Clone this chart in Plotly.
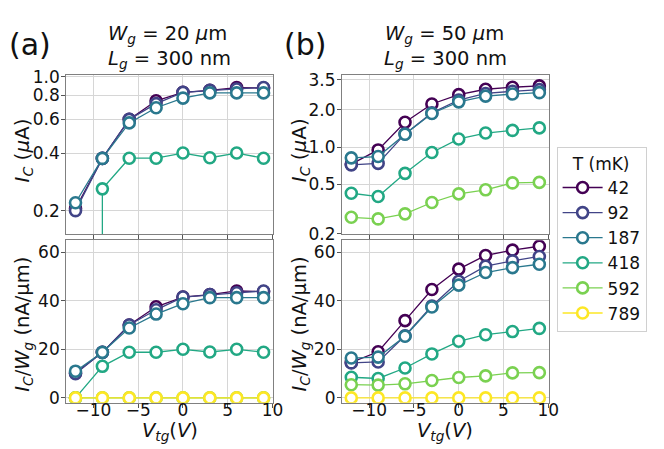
import math
import plotly.graph_objects as go

# ---------------- data ----------------
V_tg = [-12, -9, -6, -3, 0, 3, 6, 9]
temps_mK = [42, 92, 187, 418, 592, 789]
colors = ["#440154", "#414487", "#2a788e", "#22a884", "#7ad151", "#fde725"]

W_a = 20  # um
W_b = 50  # um

# panel (a): I_C in uA
Ic_a_42 = [0.205, 0.375, 0.60, 0.75, 0.83, 0.85, 0.88, 0.875]
Ic_a_92 = [0.20, 0.375, 0.60, 0.725, 0.83, 0.85, 0.865, 0.88]
Ic_a_187 = [0.22, 0.375, 0.575, 0.69, 0.775, 0.825, 0.825, 0.825]
Ic_a_418 = [0.0, 0.26, 0.376, 0.376, 0.40, 0.378, 0.40, 0.376]
Ic_a_592 = [0.0, 0.0, 0.0, 0.0, 0.0, 0.0, 0.0, 0.0]
Ic_a_789 = [0.0, 0.0, 0.0, 0.0, 0.0, 0.0, 0.0, 0.0]

# panel (b): I_C in uA
Ic_b_42 = [0.73, 0.95, 1.59, 2.23, 2.65, 2.93, 3.04, 3.12]
Ic_b_92 = [0.72, 0.74, 1.28, 1.89, 2.40, 2.71, 2.82, 2.91]
Ic_b_187 = [0.82, 0.84, 1.27, 1.87, 2.32, 2.58, 2.68, 2.75]
Ic_b_418 = [0.425, 0.40, 0.615, 0.905, 1.165, 1.30, 1.365, 1.43]
Ic_b_592 = [0.272, 0.264, 0.29, 0.358, 0.42, 0.453, 0.515, 0.52]
Ic_b_789 = [0.0, 0.0, 0.0, 0.0, 0.0, 0.0, 0.0, 0.0]

series_a = [Ic_a_42, Ic_a_92, Ic_a_187, Ic_a_418, Ic_a_592, Ic_a_789]
series_b = [Ic_b_42, Ic_b_92, Ic_b_187, Ic_b_418, Ic_b_592, Ic_b_789]

xticks = [-10, -5, 0, 5, 10]
ytick_a_top = [0.2, 0.4, 0.6, 0.8, 1.0]
ytick_b_top = [0.2, 0.5, 1.0, 2.0, 3.5]
ytick_bottom = [0, 20, 40, 60]

FONT = "DejaVu Sans"
W, H = 664, 449


def log_safe(x, y):
    """Mimic matplotlib: non-positive values on a log axis drop to -inf (vertical line)."""
    ox, oy = [], []
    for i, v in enumerate(y):
        if v > 0:
            ox.append(x[i]); oy.append(v)
        else:
            nb = None
            if i + 1 < len(y) and y[i + 1] > 0:
                nb = i + 1
            elif i - 1 >= 0 and y[i - 1] > 0:
                nb = i - 1
            if nb is None:
                ox.append(None); oy.append(None)
            else:
                ox.append(x[nb]); oy.append(1e-6)
    return ox, oy


fig = go.Figure()

panels = [
    (series_a, W_a, "x", "y", "x3", "y3"),
    (series_b, W_b, "x2", "y2", "x4", "y4"),
]

for p_i, (series, Wg, xt, yt, xb, yb) in enumerate(panels):
    for T, c, Ic in zip(temps_mK, colors, series):
        marker = dict(symbol="circle", size=11, color="white",
                      line=dict(color=c, width=2.6))
        lx, ly = log_safe(V_tg, Ic)
        if any(v is not None for v in ly):
            fig.add_trace(go.Scatter(
                x=lx, y=ly, mode="lines+markers", xaxis=xt, yaxis=yt,
                line=dict(color=c, width=1.3), marker=marker,
                legendgroup=str(T), showlegend=False, name=str(T),
                connectgaps=False))
        per_w = [v / Wg * 1000 for v in Ic]  # nA/um
        fig.add_trace(go.Scatter(
            x=V_tg, y=per_w, mode="lines+markers", xaxis=xb, yaxis=yb,
            line=dict(color=c, width=1.3), marker=marker,
            legendgroup=str(T), showlegend=(p_i == 0), name=str(T)))


def xd(a, b):
    return [a / W, b / W]


def yd(top, bottom):
    return [1 - bottom / H, 1 - top / H]


axis_common = dict(showline=True, mirror=True, linecolor="#808080", linewidth=1,
                   ticks="outside", ticklen=4, tickcolor="#555",
                   showgrid=True, gridcolor="#d6d6d6", gridwidth=1,
                   zeroline=False,
                   tickfont=dict(family=FONT, size=17, color="#111"))

xrange = [-13.05, 10.05]

fig.update_layout(
    xaxis=dict(domain=xd(59, 269), anchor="y", range=xrange, tickvals=xticks,
               showticklabels=False, **axis_common),
    yaxis=dict(domain=yd(61, 227), anchor="x", type="log",
               range=[math.log10(0.1503), math.log10(1.027)],
               tickvals=ytick_a_top, ticktext=[f"{v:.1f}" for v in ytick_a_top],
               ticklabelstandoff=-2, **axis_common),
    xaxis2=dict(domain=xd(339, 549), anchor="y2", range=xrange, tickvals=xticks,
                showticklabels=False, **axis_common),
    yaxis2=dict(domain=yd(61, 227), anchor="x2", type="log",
                range=[math.log10(0.198), math.log10(3.84)],
                tickvals=ytick_b_top, ticktext=[f"{v:.1f}" for v in ytick_b_top],
                ticklabelstandoff=-2, **axis_common),
    xaxis3=dict(domain=xd(59, 269), anchor="y3", range=xrange, tickvals=xticks,
                ticklabelstandoff=-12, **axis_common),
    yaxis3=dict(domain=yd(233, 402), anchor="x3", range=[-2.0, 64.9],
                tickvals=ytick_bottom, ticklabelstandoff=-2, **axis_common),
    xaxis4=dict(domain=xd(339, 549), anchor="y4", range=xrange, tickvals=xticks,
                ticklabelstandoff=-12, **axis_common),
    yaxis4=dict(domain=yd(233, 402), anchor="x4", range=[-2.0, 64.9],
                tickvals=ytick_bottom, ticklabelstandoff=-2, **axis_common),
)


def ann(text, xp, yp, size, angle=0):
    return dict(text=text, x=xp / W, y=1 - yp / H, xref="paper", yref="paper",
                showarrow=False, xanchor="center", yanchor="middle",
                textangle=angle, font=dict(family=FONT, size=size, color="#111"))


annotations = [
    ann("(a)", 22, 30, 30),
    ann("(b)", 302, 30, 30),
    ann("<i>W</i><sub><i>g</i></sub> = 20 <i>μ</i>m", 162, 19, 19.5),
    ann("<i>L</i><sub><i>g</i></sub> = 300 nm", 164, 45, 19.5),
    ann("<i>W</i><sub><i>g</i></sub> = 50 <i>μ</i>m", 443, 19, 19.5),
    ann("<i>L</i><sub><i>g</i></sub> = 300 nm", 444, 45, 19.5),
    ann("<i>I</i><sub><i>C</i></sub> (<i>μ</i>A)", 15, 140, 20, -90),
    ann("<i>I</i><sub><i>C</i></sub> (<i>μ</i>A)", 296, 140, 20, -90),
    ann("<i>I</i><sub><i>C</i></sub>/<i>W</i><sub><i>g</i></sub> (nA/μm)", 16, 320, 19.5, -90),
    ann("<i>I</i><sub><i>C</i></sub>/<i>W</i><sub><i>g</i></sub> (nA/μm)", 297, 320, 19.5, -90),
    ann("<i>V</i><sub><i>tg</i></sub>(<i>V</i>)", 164, 432, 19.5),
    ann("<i>V</i><sub><i>tg</i></sub>(<i>V</i>)", 444, 432, 19.5),
]

fig.update_layout(
    width=W, height=H,
    margin=dict(l=0, r=0, t=0, b=0),
    paper_bgcolor="white", plot_bgcolor="white",
    font=dict(family=FONT, size=16, color="#111"),
    annotations=annotations,
    legend=dict(x=557 / W, y=1 - 136 / H, xanchor="left", yanchor="top",
                bgcolor="white", bordercolor="#d0d0d0", borderwidth=1,
                title=dict(text="T (mK)", side="top center",
                           font=dict(family=FONT, size=17)),
                font=dict(family=FONT, size=17),
                itemwidth=40, tracegroupgap=0),
    showlegend=True,
)

fig.write_html("out.html")
